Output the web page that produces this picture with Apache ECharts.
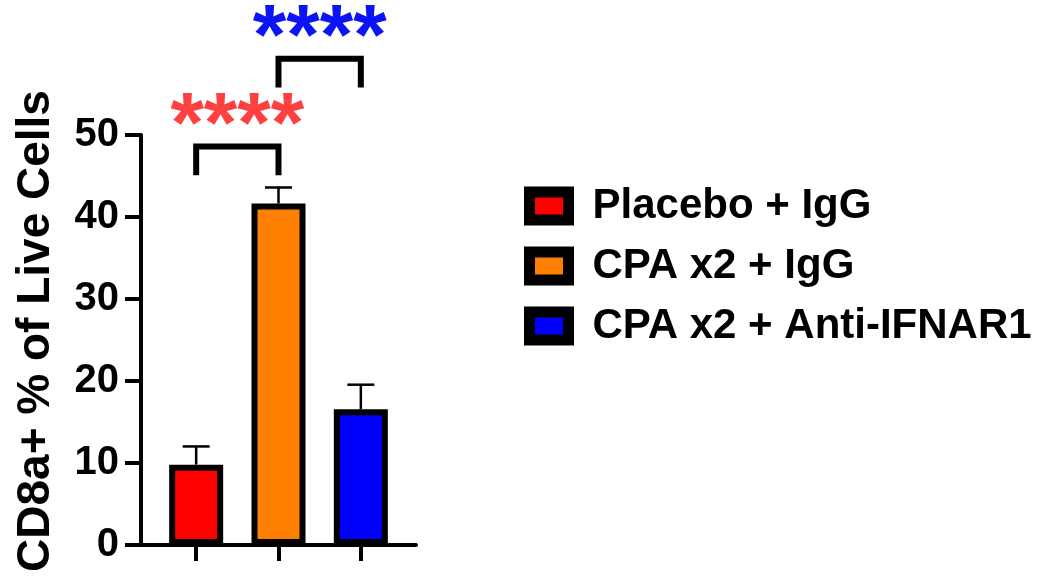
<!DOCTYPE html>
<html>
<head>
<meta charset="utf-8">
<script src="https://cdn.jsdelivr.net/npm/echarts@6/dist/echarts.min.js"></script>
<style>
html,body{margin:0;padding:0;background:#fff;}
#chart{width:1061px;height:576px;}
</style>
</head>
<body>
<div id="chart"></div>
<script>
// ---- data ----
const categories = ['Placebo + IgG', 'CPA x2 + IgG', 'CPA x2 + Anti-IFNAR1'];
const positions = [1, 2, 3];
const means = [9.8, 41.65, 16.55];
const errUpper = [12.02, 43.6, 19.55];
const barColors = ['#ff0000', '#ff8000', '#0000ff'];
const yTicks = [0, 10, 20, 30, 40, 50];
// brackets: [xFrom, xTo, yBottom, yTop]
const brackets = [[1, 2, 45.1, 48.6], [2, 3, 55.8, 59.3]];
const starText = ['****', '****'];
const starY = [50.8, 61.5];
const starColors = ['#ff4040', '#0a14f5'];
const yTitle = 'CD8a+ % of Live Cells';

const FONT = 'Liberation Sans, Arial, sans-serif';
const chart = echarts.init(document.getElementById('chart'));

const barSeries = categories.map((name, i) => ({
  name: name,
  type: 'bar',
  barWidth: 54,
  barGap: '-100%',
  data: [[positions[i], means[i]]],
  itemStyle: { color: barColors[i], borderColor: '#000', borderWidth: 6 },
  z: 2
}));

const errorSeries = {
  type: 'custom',
  data: positions.map((x, i) => [x, means[i], errUpper[i]]),
  z: 3,
  renderItem: function (params, api) {
    const x = api.value(0);
    const p0 = api.coord([x, api.value(1)]);
    const p1 = api.coord([x, api.value(2)]);
    return {
      type: 'group',
      children: [
        { type: 'line', shape: { x1: p0[0], y1: p0[1], x2: p1[0], y2: p1[1] }, style: { stroke: '#000', lineWidth: 2.5 } },
        { type: 'line', shape: { x1: p1[0] - 13.5, y1: p1[1], x2: p1[0] + 13.5, y2: p1[1] }, style: { stroke: '#000', lineWidth: 2.5 } }
      ]
    };
  }
};

const bracketSeries = {
  type: 'custom',
  clip: false,
  data: brackets.map((b, i) => [b[0], b[1], b[2], b[3], starY[i], i]),
  z: 4,
  renderItem: function (params, api) {
    const x1 = api.value(0), x2 = api.value(1), lo = api.value(2), hi = api.value(3), sy = api.value(4);
    const i = params.dataIndex;
    const a = api.coord([x1, lo]), b = api.coord([x1, hi]), c = api.coord([x2, hi]), d = api.coord([x2, lo]);
    const s = api.coord([(x1 + x2) / 2, sy]);
    return {
      type: 'group',
      children: [
        { type: 'polyline', shape: { points: [a, b, c, d] }, style: { stroke: '#000', lineWidth: 6, fill: null, lineJoin: 'miter', lineCap: 'butt' } },
        { type: 'text', x: s[0], y: s[1], style: { text: starText[i], fill: starColors[i], font: 'bold 86px ' + FONT, align: 'center', verticalAlign: 'middle' } }
      ]
    };
  }
};

chart.setOption({
  animation: false,
  backgroundColor: '#fff',
  grid: { left: 141, right: 645, top: 135, bottom: 31, containLabel: false },
  legend: {
    data: categories,
    orient: 'vertical',
    left: 524,
    top: 185,
    padding: 0,
    itemGap: 18,
    itemWidth: 39,
    itemHeight: 28,
    icon: 'rect',
    itemStyle: { borderColor: '#000', borderWidth: 11 },
    textStyle: { fontFamily: FONT, fontWeight: 'bold', fontSize: 42, color: '#000', lineHeight: 40, padding: [0, 0, 0, 19] }
  },
  xAxis: {
    type: 'value',
    min: 0.33,
    max: 3.67,
    axisLine: { onZero: false, lineStyle: { color: '#000', width: 4 } },
    axisTick: { show: true, customValues: positions, length: 16, lineStyle: { color: '#000', width: 4 } },
    axisLabel: { show: false },
    splitLine: { show: false }
  },
  yAxis: {
    type: 'value',
    min: yTicks[0],
    max: yTicks[yTicks.length - 1],
    interval: 10,
    name: yTitle,
    nameLocation: 'middle',
    nameRotate: 90,
    nameGap: 82,
    nameTextStyle: { fontFamily: FONT, fontWeight: 'bold', fontSize: 46, color: '#000', padding: [0, 0, 0, 18] },
    axisLine: { show: true, onZero: false, lineStyle: { color: '#000', width: 4 } },
    axisTick: { show: true, length: 16, lineStyle: { color: '#000', width: 4 } },
    axisLabel: { fontFamily: FONT, fontWeight: 'bold', fontSize: 40, color: '#000', margin: 22 },
    splitLine: { show: false }
  },
  series: barSeries.concat([errorSeries, bracketSeries])
});
</script>
</body>
</html>
